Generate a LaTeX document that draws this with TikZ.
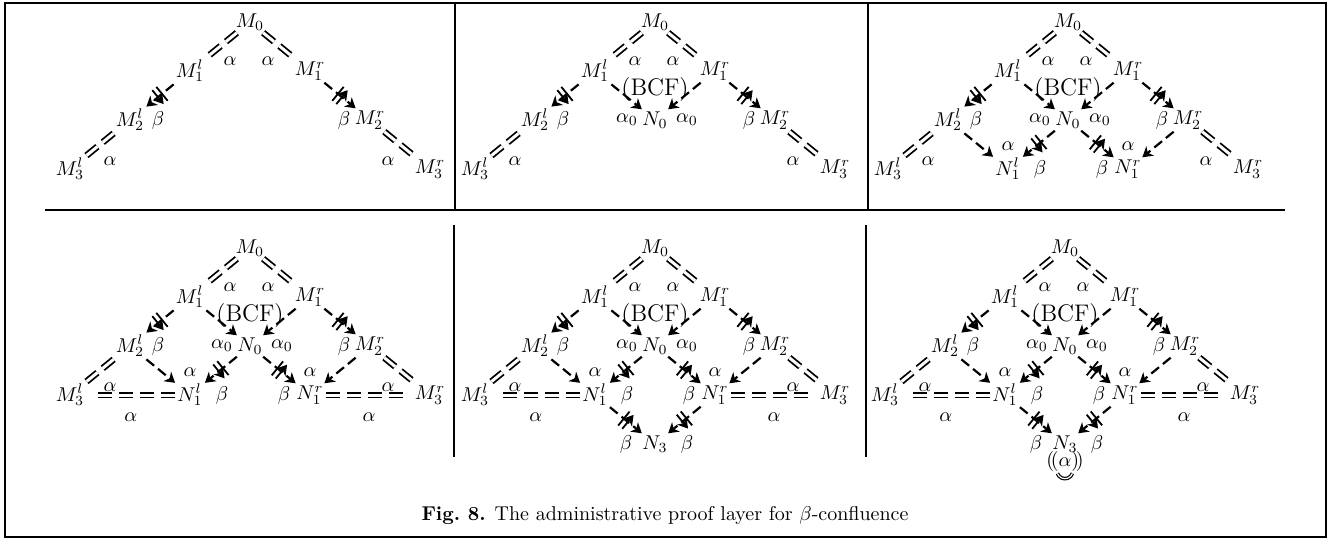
\documentclass[tikz,border=0pt]{standalone}
\usepackage{amsmath,amssymb}
\usepackage{tikz}
\usetikzlibrary{
	positioning,
	arrows.meta,
	decorations.markings
}

\begin{document}
\begin{tikzpicture}[
			x=0.5pt,
			y=-0.5pt,
			on grid,
			node distance=24.5pt and 30pt,
			term/.style={inner sep=1pt},
			lbl/.style={inner sep=0.5pt},
			eqv/.style={
				double,
				double distance=1.5pt,
				line width=0.9pt,
				dash pattern=on 7pt off 3.5pt
			},
			dstep/.style={
				line width=1.1pt,
				dash pattern=on 5pt off 2.5pt,
				-{Stealth[length=5pt,width=6pt,inset=1.5pt]}
			},
			bstep/.style={
				dstep,
				postaction={decorate},
				decoration={markings,
					mark=at position 0.5 with {\draw[solid,line width=0.9pt] (-1.3pt,-4.5pt)--(-1.3pt,4.5pt) (1.3pt,-4.5pt)--(1.3pt,4.5pt);}}
			},
			frame/.style={line width=0.9pt}
			]
			
			\useasboundingbox (0,0) rectangle (1334,541);
			
			\draw[frame] (5,3) rectangle (1326,537);
			\draw[frame] (45,210) -- (1285,210);
			\draw[frame] (455,3) -- (455,210);
			\draw[frame] (868,3) -- (868,210);
			\draw[frame] (454,225) -- (454,457);
			\draw[frame] (866,225) -- (866,457);
			
			\foreach \ox/\oy/\k in {250/22/1, 655/22/2, 1068/22/3, 250/248/4, 655/248/5, 1065/248/6}{
				
				\node[term] (m0) at (\ox,\oy) {$M_0$};
				\node[term,below left=of m0] (m1l) {$M_1^l$};
				\node[term,below right=of m0] (m1r) {$M_1^r$};
				\node[term,below left=of m1l] (m2l) {$M_2^l$};
				\node[term,below right=of m1r] (m2r) {$M_2^r$};
				\node[term,below left=of m2l] (m3l) {$M_3^l$};
				\node[term,below right=of m2r] (m3r) {$M_3^r$};
				
				\node[lbl,above right=5pt and 20pt of m1l] {$\alpha$};
				\node[lbl,above left=5pt and 21pt of m1r] {$\alpha$};
				\node[lbl,right=14pt of m2l] {$\beta$};
				\node[lbl,left=13pt of m2r] {$\beta$};
				\node[lbl,above right=4pt and 20pt of m3l] {$\alpha$};
				\node[lbl,above left=4pt and 21pt of m3r] {$\alpha$};
				
				\draw[eqv] (m0)--(m1l);
				\draw[eqv] (m0)--(m1r);
				\draw[bstep] (m1l)--(m2l);
				\draw[bstep] (m1r)--(m2r);
				\draw[eqv] (m2l)--(m3l);
				\draw[eqv] (m2r)--(m3r);
				
				\ifnum\k>1
				\node[term,below=49pt of m0] (n0) {$N_0$};
				\node[lbl,below=34pt of m0,font=\large] (bcf) {(BCF)};
				\node[lbl,left=14pt of n0] {$\alpha_0$};
				\node[lbl,right=16pt of n0] {$\alpha_0$};
				\draw[dstep] (m1l)--(n0);
				\draw[dstep] (m1r)--(n0);
				\fi
				
				\ifnum\k>2
				\node[term,below left=of n0] (n1l) {$N_1^l$};
				\node[term,below right=of n0] (n1r) {$N_1^r$};
				\node[lbl,above=11.5pt of n1l] {$\alpha$};
				\node[lbl,above=11.5pt of n1r] {$\alpha$};
				\node[lbl,right=16pt of n1l] {$\beta$};
				\node[lbl,left=13pt of n1r] {$\beta$};
				\draw[dstep] (m2l)--(n1l);
				\draw[dstep] (m2r)--(n1r);
				\draw[bstep] (n0)--(n1l);
				\draw[bstep] (n0)--(n1r);
				\fi
				
				\ifnum\k>3
				\draw[eqv,shorten >=4pt] (n1l)-- node[lbl,yshift=-11pt] {$\alpha$} (m3l);
				\draw[eqv,shorten >=2pt] (n1r)-- node[lbl,yshift=-11pt] {$\alpha$} (m3r);
				\fi
				
				\ifnum\k>4
				\node[term,below right=of n1l] (n3) {$N_3$};
				\node[lbl,left=14.5pt of n3] {$\beta$};
				\node[lbl,right=16pt of n3] {$\beta$};
				\draw[bstep] (n1l)--(n3);
				\draw[bstep] (n1r)--(n3);
				\fi
				
				\ifnum\k>5
				\node[lbl,below=8.5pt of n3] (loop) {$(\!(\alpha)\!)$};
				\draw[line width=0.6pt,double,double distance=0.6pt] ([xshift=-3.8pt,yshift=-0.5pt]loop.south) arc[start angle=200,end angle=340,radius=4pt];
				\fi
			}
			
			\node (cap) at (665,515) {\textbf{Fig.~8.} The administrative proof layer for $\beta$-confluence};
			
		\end{tikzpicture}
\end{document}
